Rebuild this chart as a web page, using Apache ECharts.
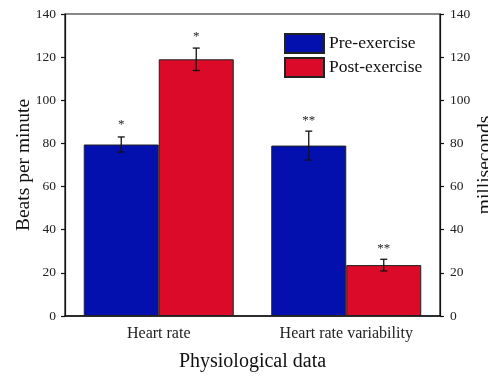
<!DOCTYPE html>
<html>
<head>
<meta charset="utf-8">
<script src="https://cdn.jsdelivr.net/npm/echarts@6/dist/echarts.min.js"></script>
<style>html,body{margin:0;padding:0;background:#fff;}#c{width:488px;height:377px;}</style>
</head>
<body>
<div id="c"></div>
<script>
const categories = ['Heart rate', 'Heart rate variability'];
const seriesNames = ['Pre-exercise', 'Post-exercise'];
const preValues = [79.5, 79];
const postValues = [119, 23.6];
const preErrors = [3.5, 6.7];
const postErrors = [5.2, 2.7];
const preStars = ['*', '**'];
const postStars = ['*', '**'];
const preStarY = [90, 92];
const postStarY = [131, 32.5];
const yMin = 0, yMax = 140, yInterval = 20;

const FONT = 'Liberation Serif';
const chart = echarts.init(document.getElementById('c'));

function errSeries(values, errors, stars, starY, shift) {
  return {
    type: 'custom',
    z: 10,
    silent: true,
    data: values.map((v, i) => [i, v, errors[i], starY[i]]),
    renderItem: function (params, api) {
      const x = api.value(0), v = api.value(1), e = api.value(2), sy = api.value(3);
      const band = api.size([1, 0])[0];
      const off = shift * band * 0.2;
      const top = api.coord([x, v + e]);
      const bot = api.coord([x, v - e]);
      const st = api.coord([x, sy]);
      const cx = top[0] + off;
      const cap = 3.5;
      const style = { stroke: '#111', lineWidth: 1.3 };
      return {
        type: 'group',
        children: [
          { type: 'line', shape: { x1: cx, y1: top[1], x2: cx, y2: bot[1] }, style: style },
          { type: 'line', shape: { x1: cx - cap, y1: top[1], x2: cx + cap, y2: top[1] }, style: style },
          { type: 'line', shape: { x1: cx - cap, y1: bot[1], x2: cx + cap, y2: bot[1] }, style: style },
          { type: 'text', x: cx, y: st[1] + 3, style: { text: stars[params.dataIndex], fill: '#222', font: '13px "' + FONT + '"', align: 'center', verticalAlign: 'middle' } }
        ]
      };
    }
  };
}

const yAxisCommon = {
  type: 'value', min: yMin, max: yMax, interval: yInterval,
  nameLocation: 'middle', nameRotate: 90, nameMoveOverlap: false,
  nameTextStyle: { fontFamily: FONT, fontSize: 19.5, color: '#111' },
  axisLine: { show: true, lineStyle: { color: '#111', width: 1.2 } },
  axisTick: { show: true, inside: false, length: 4, lineStyle: { color: '#111', width: 1.2 } },
  axisLabel: { fontFamily: FONT, fontSize: 13.5, color: '#222', margin: 9 },
  splitLine: { show: false }
};

chart.setOption({
  animation: false,
  grid: { left: 65, top: 14, right: 48, bottom: 61, containLabel: false, outerBoundsMode: 'none',
          show: true, borderColor: '#111', borderWidth: 1.2 },
  legend: {
    data: seriesNames, orient: 'vertical', left: 279, top: 28, icon: 'rect',
    itemWidth: 39, itemHeight: 19, itemGap: 3,
    textStyle: { fontFamily: FONT, fontSize: 17.5, color: '#111' }
  },
  xAxis: {
    type: 'category', data: categories,
    name: 'Physiological data', nameLocation: 'middle', nameGap: 36,
    nameTextStyle: { fontFamily: FONT, fontSize: 20, color: '#111' },
    axisLine: { lineStyle: { color: '#111', width: 1.5 } },
    axisTick: { alignWithLabel: true, length: 4, lineStyle: { color: '#111', width: 1.2 } },
    axisLabel: { fontFamily: FONT, fontSize: 16, color: '#222', margin: 10 }
  },
  yAxis: [
    Object.assign({}, yAxisCommon, { position: 'left', name: 'Beats per minute', nameGap: 31 }),
    Object.assign({}, yAxisCommon, { position: 'right', name: 'milliseconds', nameGap: 35,
      axisLabel: Object.assign({}, yAxisCommon.axisLabel, { margin: 10 }) })
  ],
  series: [
    { name: seriesNames[0], type: 'bar', data: preValues, barGap: '0%', barCategoryGap: '20%',
      itemStyle: { color: '#0410AE', borderColor: '#222', borderWidth: 1 } },
    { name: seriesNames[1], type: 'bar', data: postValues, barGap: '0%', barCategoryGap: '20%',
      itemStyle: { color: '#DA0A28', borderColor: '#222', borderWidth: 1 } },
    errSeries(preValues, preErrors, preStars, preStarY, -1),
    errSeries(postValues, postErrors, postStars, postStarY, 1)
  ]
});
</script>
</body>
</html>
